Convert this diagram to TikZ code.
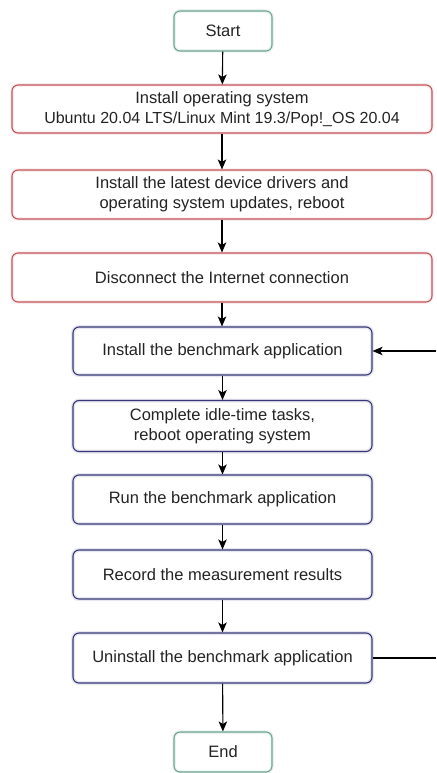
\documentclass[tikz,border=0pt]{standalone}
\usepackage{fontspec}
\setmainfont{Liberation Sans}
\usetikzlibrary{arrows.meta}
\definecolor{tealb}{RGB}{110,165,145}
\definecolor{redb}{RGB}{195,85,90}
\definecolor{blueb}{RGB}{55,55,120}
\definecolor{txt}{RGB}{35,35,35}
\begin{document}
\begin{tikzpicture}[x=1pt,y=-1pt,
  box/.style={draw, rounded corners=6pt, line width=1.1pt, align=center, inner sep=0pt,
     font=\fontsize{16.5}{20}\selectfont, text=txt},
  termbox/.style={box, draw=tealb, minimum width=98pt, minimum height=40pt,
     preaction={draw=tealb!15, line width=3.5pt}},
  redbox/.style={box, draw=redb, minimum width=420pt, minimum height=49pt,
     preaction={draw=redb!12, line width=3.5pt}},
  bluebox/.style={box, draw=blueb, minimum width=299pt, minimum height=49pt,
     preaction={draw=blueb!12, line width=4pt}},
  arr/.style={-{Stealth[length=10pt,width=8.5pt,inset=2.5pt]}, line width=1.1pt, black}]
\useasboundingbox (0,0) rectangle (436,773);
\node[termbox] (start) at (223,31) {Start};
\node[redbox, minimum height=48pt] (os) at (222,109) {Install operating system\\{\fontsize{16}{20}\selectfont Ubuntu 20.04 LTS/Linux Mint 19.3/Pop!\_OS 20.04}};
\node[redbox] (drv) at (222,194.5) {Install the latest device drivers and\\operating system updates, reboot};
\node[redbox] (disc) at (222,277.5) {Disconnect the Internet connection};
\node[bluebox, minimum height=48pt] (inst) at (222.5,351) {Install the benchmark application};
\node[bluebox, minimum height=51pt] (idle) at (222.5,426) {Complete idle-time tasks,\\reboot operating system};
\node[bluebox] (run) at (222.5,499.5) {Run the benchmark application};
\node[bluebox] (rec) at (222.5,574.5) {Record the measurement results};
\node[bluebox, minimum height=50pt] (unin) at (222.5,658) {Uninstall the benchmark application};
\node[termbox] (end) at (223,752) {End};
\coordinate (fbA) at (436,658);
\coordinate (fbB) at (436,351);
\draw[arr] (start) -- (os);
\draw[arr] (os) -- (drv);
\draw[arr] (drv) -- (disc);
\draw[arr] (disc) -- (disc.south |- inst.north);
\draw[arr] (inst) -- (idle);
\draw[arr] (idle) -- (run);
\draw[arr] (run) -- (rec);
\draw[arr] (rec) -- (unin);
\draw[arr] (unin) -- (end);
\draw[line width=1.1pt] (unin.east) -- (fbA);
\draw[arr] (fbB) -- (inst.east);
\end{tikzpicture}
\end{document}
